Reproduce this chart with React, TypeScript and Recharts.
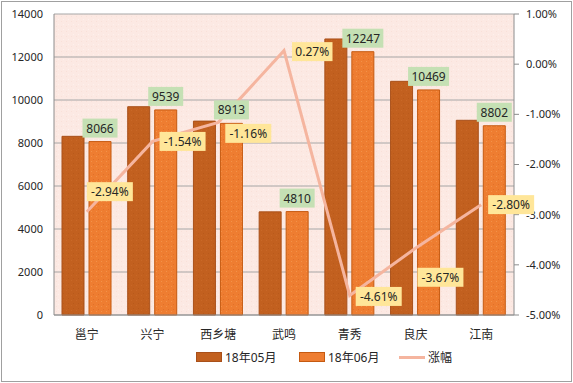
import { ComposedChart, Bar, Line, XAxis, YAxis, CartesianGrid, LabelList } from "recharts"

const categories = ["邕宁", "兴宁", "西乡塘", "武鸣", "青秀", "良庆", "江南"]
const may = [8310, 9688, 9018, 4797, 12839, 10868, 9056]
const june = [8066, 9539, 8913, 4810, 12247, 10469, 8802]
const change = [-0.0294, -0.0154, -0.0116, 0.0027, -0.0461, -0.0367, -0.028]
const leftTicks = [0, 2000, 4000, 6000, 8000, 10000, 12000, 14000]
const rightTicks = [-0.05, -0.04, -0.03, -0.02, -0.01, 0, 0.01]
const seriesNames = ["18年05月", "18年06月", "涨幅"]

// where each % box sits relative to its point: [dx to left edge, dy to middle]
const pctOffsets = [[0, -20], [7, 0], [7, 11], [8, 1], [6, 1], [2, 29], [7, 0]]

const data = categories.map((name, i) => ({ name, may: may[i], june: june[i], change: change[i] }))

const pct = (v: number) => (v * 100).toFixed(2) + "%"

const JuneLabel = (props: any) => {
  const { x, y, width, value } = props
  const text = String(value)
  const w = text.length * 6 + 11
  const h = 19
  const cx = x + width / 2
  return (
    <g>
      <rect x={cx - w / 2} y={y - 4 - h} width={w} height={h} fill="#c5e0b4" />
      <text x={cx} y={y - 4 - h / 2} textAnchor="middle" dominantBaseline="central" fontSize={12} fill="#262626">
        {text}
      </text>
    </g>
  )
}

const ChangeLabel = (props: any) => {
  const { x, y, value, index } = props
  const i = index ?? change.indexOf(value)
  const [dx, dy] = pctOffsets[i] || [7, 0]
  const text = pct(value)
  const w = text.length * 5.5 + 13
  const h = 19
  return (
    <g>
      <rect x={x + dx} y={y + dy - h / 2} width={w} height={h} fill="#ffe699" />
      <text x={x + dx + w / 2} y={y + dy} textAnchor="middle" dominantBaseline="central" fontSize={12} fill="#262626">
        {text}
      </text>
    </g>
  )
}

const legendX = [196, 299, 399]

export default function App() {
  return (
    <div
      style={{
        position: "fixed",
        left: 0,
        top: 0,
        width: 573,
        height: 383,
        background: "#fff",
        fontFamily: '"Noto Sans", "Noto Sans CJK SC", sans-serif',
      }}
    >
      <div style={{ position: "absolute", left: 1, top: 1, width: 569, height: 379, border: "1px solid #a0a0a0" }} />
      <ComposedChart
        width={573}
        height={383}
        data={data}
        margin={{ top: 14, right: 0, bottom: 38, left: 0 }}
        barSize={22}
        barGap={5}
        style={{ position: "absolute", left: 0, top: 0 }}
      >
        <defs>
          <pattern id="bgTex" width="5" height="5" patternUnits="userSpaceOnUse">
            <rect width="5" height="5" fill="#fce9e3" />
            <rect x="1" y="1" width="1" height="1" fill="#f9e0d8" />
            <rect x="3" y="4" width="1" height="1" fill="#fdf1ed" />
          </pattern>
          <pattern id="mayTex" width="5" height="5" patternUnits="userSpaceOnUse">
            <rect width="5" height="5" fill="#c2601f" />
            <rect x="1" y="0" width="1" height="1" fill="#c96828" />
            <rect x="3" y="3" width="1" height="1" fill="#b8591b" />
          </pattern>
          <pattern id="juneTex" width="5" height="5" patternUnits="userSpaceOnUse">
            <rect width="5" height="5" fill="#ee7d31" />
            <rect x="1" y="1" width="1" height="1" fill="#f2924a" />
            <rect x="3" y="4" width="1" height="1" fill="#e0702a" />
          </pattern>
        </defs>
        <CartesianGrid vertical={false} stroke="#a6a6a6" fill="url(#bgTex)" yAxisId="left" />
        <XAxis
          dataKey="name"
          height={30}
          axisLine={{ stroke: "#8c8c8c" }}
          tickLine={false}
          tickMargin={9}
          tick={{ fontSize: 12, fill: "#262626" }}
          interval={0}
        />
        <YAxis
          yAxisId="left"
          width={54}
          domain={[0, 14000]}
          ticks={leftTicks}
          axisLine={{ stroke: "#8c8c8c" }}
          tickLine={false}
          tickMargin={5}
          tick={{ fontSize: 11, fill: "#262626" }}
        />
        <YAxis
          yAxisId="right"
          orientation="right"
          width={59}
          domain={[-0.05, 0.01]}
          ticks={rightTicks}
          tickFormatter={pct}
          axisLine={{ stroke: "#8c8c8c" }}
          tickLine={{ stroke: "#8c8c8c" }}
          tickSize={5}
          tickMargin={7}
          tick={{ fontSize: 11, fill: "#262626" }}
        />
        <Bar yAxisId="left" dataKey="may" name={seriesNames[0]} fill="url(#mayTex)" stroke="#a9501a" strokeWidth={1} isAnimationActive={false} />
        <Bar yAxisId="left" dataKey="june" name={seriesNames[1]} fill="url(#juneTex)" stroke="#c55a11" strokeWidth={1} isAnimationActive={false}>
          <LabelList dataKey="june" content={JuneLabel} />
        </Bar>
        <Line
          yAxisId="right"
          dataKey="change"
          name={seriesNames[2]}
          stroke="#f5b59f"
          strokeWidth={3}
          dot={false}
          isAnimationActive={false}
        >
          <LabelList dataKey="change" content={ChangeLabel} />
        </Line>
      </ComposedChart>
      {seriesNames.map((n, i) => (
        <div
          key={n}
          style={{
            position: "absolute",
            left: legendX[i],
            top: 348,
            height: 18,
            display: "flex",
            alignItems: "center",
            fontSize: 12,
            color: "#262626",
          }}
        >
          {i < 2 ? (
            <span
              style={{
                display: "inline-block",
                width: 24,
                height: 8,
                background: i === 0 ? "#c2601f" : "#ee7d31",
                border: `1px solid ${i === 0 ? "#a9501a" : "#c55a11"}`,
              }}
            />
          ) : (
            <span style={{ display: "inline-block", width: 26, height: 3, background: "#f5b59f" }} />
          )}
          <span style={{ marginLeft: 3 }}>{n}</span>
        </div>
      ))}
    </div>
  )
}
